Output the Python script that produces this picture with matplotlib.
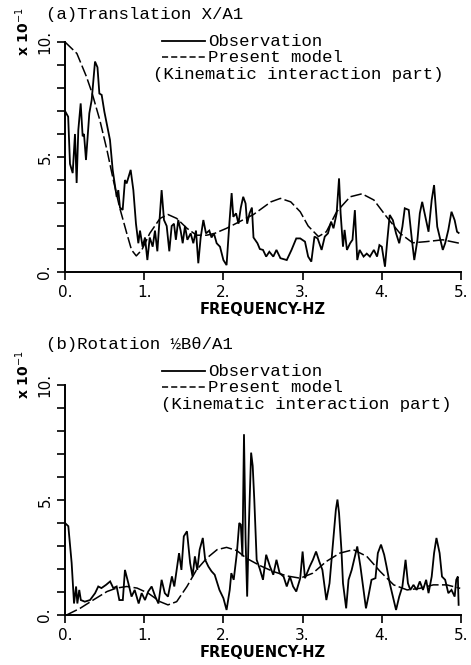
import numpy as np
import matplotlib
matplotlib.use('Agg')
import matplotlib.pyplot as plt
from matplotlib.lines import Line2D
from matplotlib.ticker import MultipleLocator, FixedLocator, FixedFormatter

# ---- data (amplitude in units of 1, axis shows x10^-1) ----
obs_a_f = [0.0, 0.04, 0.063, 0.097, 0.126, 0.147, 0.168, 0.198, 0.223, 0.24, 0.265, 0.307, 0.337,
           0.379, 0.41, 0.434, 0.463, 0.497, 0.568, 0.602, 0.652, 0.673, 0.694, 0.728, 0.757, 0.778,
           0.829, 0.863, 0.896, 0.926, 0.947, 0.98, 1.01, 1.04, 1.07, 1.107, 1.136, 1.166, 1.22,
           1.25, 1.284, 1.317, 1.347, 1.376, 1.40, 1.43, 1.46, 1.486, 1.515, 1.545, 1.587, 1.62,
           1.654, 1.683, 1.713, 1.747, 1.78, 1.822, 1.85, 1.88, 1.915, 1.957, 2.0, 2.04, 2.075,
           2.104, 2.125, 2.16, 2.19, 2.22, 2.25, 2.28, 2.30, 2.33, 2.36, 2.38, 2.43, 2.46, 2.50,
           2.54, 2.58, 2.63, 2.67, 2.72, 2.80, 2.86, 2.92, 2.97, 3.03, 3.07, 3.11, 3.15, 3.19,
           3.24, 3.28, 3.32, 3.36, 3.39, 3.43, 3.46, 3.48, 3.51, 3.53, 3.56, 3.60, 3.63, 3.66,
           3.69, 3.72, 3.77, 3.81, 3.85, 3.90, 3.94, 3.97, 4.00, 4.04, 4.07, 4.10, 4.14, 4.18,
           4.22, 4.26, 4.29, 4.34, 4.38, 4.41, 4.45, 4.48, 4.51, 4.55, 4.59, 4.63, 4.66, 4.70,
           4.74, 4.77, 4.80, 4.84, 4.88, 4.92, 4.95, 4.97]
obs_a_v = [0.70, 0.675, 0.47, 0.43, 0.60, 0.387, 0.617, 0.733, 0.59, 0.60, 0.487, 0.69, 0.748,
           0.915, 0.89, 0.776, 0.77, 0.697, 0.574, 0.444, 0.327, 0.356, 0.28, 0.27, 0.40, 0.385,
           0.444, 0.356, 0.21, 0.125, 0.18, 0.11, 0.15, 0.052, 0.15, 0.11, 0.18, 0.09, 0.356,
           0.226, 0.20, 0.09, 0.20, 0.21, 0.14, 0.226, 0.18, 0.125, 0.20, 0.14, 0.168, 0.125,
           0.18, 0.038, 0.15, 0.226, 0.168, 0.18, 0.15, 0.168, 0.125, 0.11, 0.052, 0.03, 0.21,
           0.343, 0.24, 0.255, 0.21, 0.28, 0.327, 0.298, 0.21, 0.255, 0.28, 0.15, 0.125, 0.10, 0.096,
           0.067, 0.088, 0.067, 0.096, 0.06, 0.052, 0.096, 0.146, 0.146, 0.132, 0.067, 0.045, 0.154, 0.146,
           0.096, 0.154, 0.168, 0.219, 0.19, 0.255, 0.407, 0.255, 0.11, 0.183, 0.096, 0.125, 0.14, 0.269,
           0.052, 0.096, 0.067, 0.08, 0.067, 0.096, 0.067, 0.117, 0.11, 0.023, 0.14, 0.248, 0.225, 0.168,
           0.125, 0.197, 0.277, 0.27, 0.14, 0.052, 0.14, 0.255, 0.305, 0.24, 0.175, 0.313, 0.378, 0.197,
           0.14, 0.096, 0.125, 0.183, 0.262, 0.225, 0.175, 0.17]

model_a_f = [0.0, 0.15, 0.27, 0.34, 0.44, 0.53, 0.61, 0.69, 0.78, 0.84, 0.90, 0.97, 1.07, 1.20,
             1.30, 1.41, 1.54, 1.66, 1.79, 1.89, 2.04, 2.21, 2.38, 2.46, 2.60, 2.72, 2.85, 2.97,
             3.07, 3.20, 3.30, 3.43, 3.60, 3.75, 3.90, 4.06, 4.23, 4.39, 4.56, 4.77, 4.98]
model_a_v = [1.0, 0.95, 0.85, 0.78, 0.66, 0.53, 0.40, 0.28, 0.168, 0.096, 0.07, 0.096, 0.168, 0.233,
             0.25, 0.233, 0.19, 0.16, 0.16, 0.168, 0.19, 0.22, 0.25, 0.27, 0.305, 0.32, 0.305, 0.262,
             0.20, 0.154, 0.175, 0.262, 0.327, 0.34, 0.313, 0.24, 0.168, 0.127, 0.132, 0.14, 0.125]

obs_b_f = [0.0, 0.042, 0.084, 0.114, 0.14, 0.156, 0.18, 0.20, 0.25, 0.316, 0.38, 0.42, 0.46, 0.518,
           0.57, 0.61, 0.652, 0.686, 0.73, 0.757, 0.80, 0.84, 0.88, 0.93, 0.968, 1.01, 1.05, 1.094,
           1.14, 1.18, 1.22, 1.26, 1.30, 1.35, 1.38, 1.41, 1.44, 1.47, 1.50, 1.54, 1.58, 1.61, 1.64,
           1.67, 1.70, 1.74, 1.77, 1.81, 1.85, 1.89, 1.95, 2.0, 2.04, 2.08, 2.10, 2.13, 2.17, 2.20,
           2.22, 2.24, 2.26, 2.28, 2.30, 2.32, 2.35, 2.37, 2.39, 2.42, 2.46, 2.50, 2.54, 2.588, 2.63,
           2.67, 2.71, 2.76, 2.80, 2.84, 2.88, 2.92, 2.97, 3.00, 3.03, 3.09, 3.13, 3.17, 3.21, 3.25,
           3.30, 3.34, 3.38, 3.42, 3.44, 3.46, 3.49, 3.51, 3.55, 3.58, 3.62, 3.66, 3.69, 3.73, 3.77,
           3.80, 3.83, 3.87, 3.92, 3.95, 3.99, 4.03, 4.06, 4.10, 4.15, 4.18, 4.22, 4.26, 4.30, 4.33,
           4.36, 4.40, 4.44, 4.48, 4.52, 4.56, 4.59, 4.63, 4.66, 4.69, 4.73, 4.76, 4.80, 4.84, 4.88,
           4.92, 4.94, 4.96, 4.97]
obs_b_v = [0.40, 0.386, 0.226, 0.05, 0.124, 0.05, 0.109, 0.065, 0.058, 0.065, 0.095, 0.124, 0.117, 0.131,
           0.146, 0.117, 0.124, 0.065, 0.065, 0.196, 0.138, 0.08, 0.109, 0.05, 0.095, 0.065, 0.102, 0.124,
           0.08, 0.05, 0.153, 0.095, 0.08, 0.168, 0.124, 0.196, 0.269, 0.196, 0.342, 0.364, 0.226, 0.168, 0.255,
           0.196, 0.284, 0.335, 0.24, 0.211, 0.19, 0.175, 0.109, 0.073, 0.022, 0.109, 0.182, 0.153, 0.269, 0.40,
           0.393, 0.255, 0.786, 0.328, 0.08, 0.371, 0.706, 0.648, 0.502, 0.24, 0.20, 0.153, 0.262, 0.211, 0.175,
           0.24, 0.182, 0.167, 0.124, 0.167, 0.124, 0.102, 0.16, 0.276, 0.16, 0.211, 0.24, 0.276, 0.233, 0.196,
           0.065, 0.138, 0.298, 0.458, 0.502, 0.444, 0.284, 0.138, 0.029, 0.153, 0.196, 0.255, 0.298, 0.211, 0.109,
           0.029, 0.08, 0.153, 0.16, 0.269, 0.306, 0.262, 0.211, 0.138, 0.065, 0.022, 0.08, 0.124, 0.24, 0.138,
           0.109, 0.131, 0.109, 0.146, 0.109, 0.153, 0.095, 0.167, 0.269, 0.335, 0.269, 0.167, 0.153, 0.095, 0.109,
           0.08, 0.153, 0.167, 0.044]

model_b_f = [0.02, 0.19, 0.36, 0.53, 0.65, 0.78, 0.91, 1.05, 1.20, 1.30, 1.41, 1.54, 1.66, 1.79,
             1.92, 2.04, 2.17, 2.29, 2.46, 2.63, 2.80, 2.97, 3.13, 3.30, 3.47, 3.64, 3.81, 3.98,
             4.15, 4.32, 4.48, 4.65, 4.82, 4.99]
model_b_v = [0.0, 0.029, 0.066, 0.102, 0.117, 0.124, 0.117, 0.095, 0.058, 0.044, 0.058, 0.124, 0.196,
             0.247, 0.284, 0.294, 0.28, 0.247, 0.215, 0.189, 0.17, 0.16, 0.182, 0.233, 0.269, 0.284,
             0.255, 0.189, 0.131, 0.109, 0.116, 0.131, 0.131, 0.116]

titles = ['(a)Translation X/A1', '(b)Rotation ½Bθ/A1']
x_ticks = [0, 1, 2, 3, 4, 5]
x_ticklabels = ['0.', '1.', '2.', '3.', '4.', '5.']
y_ticks = [0, 0.5, 1.0]
y_ticklabels = ['0.', '5.', '10.']

W, H = 471, 665
fig = plt.figure(figsize=(W / 100, H / 100), dpi=100)


def fx(px):
    return px / W


def fy(py):
    return 1 - py / H


mono = 'Liberation Mono'
sans = 'DejaVu Sans'
tsize = 12.5

# axes top/bottom pixel rows, text block offset, note centre
panels = [
    (obs_a_f, obs_a_v, model_a_f, model_a_v, 42, 272, 0, 298),
    (obs_b_f, obs_b_v, model_b_f, model_b_v, 385, 615, 330, 306),
]

for i, (of, ov, mf, mv, top, bot, off, note_x) in enumerate(panels):
    ax = fig.add_axes([fx(65), fy(bot), fx(461) - fx(65), (bot - top) / H])
    ax.plot(of, ov, color='black', lw=1.3, solid_joinstyle='miter')
    ax.plot(mf, mv, color='black', lw=1.1, dashes=(7.5, 2.2))
    ax.set_xlim(0, 5)
    ax.set_ylim(0, 1.0)
    for s in ['top', 'right']:
        ax.spines[s].set_visible(False)
    for s in ['left', 'bottom']:
        ax.spines[s].set_linewidth(1.4)
    ax.xaxis.set_major_locator(FixedLocator(x_ticks))
    ax.xaxis.set_major_formatter(FixedFormatter(x_ticklabels))
    ax.yaxis.set_major_locator(FixedLocator(y_ticks))
    ax.yaxis.set_major_formatter(FixedFormatter(y_ticklabels))
    ax.yaxis.set_minor_locator(MultipleLocator(0.1))
    ax.tick_params(axis='x', direction='out', length=6, width=1.2, pad=3, labelsize=11)
    ax.tick_params(axis='y', which='both', direction='out', length=6, width=1.2, pad=3,
                   labelsize=11, labelrotation=90)
    for lab in ax.get_xticklabels() + ax.get_yticklabels():
        lab.set_fontfamily(sans)
    for lab in ax.get_yticklabels():
        lab.set_va('center')
    ax.set_xlabel('FREQUENCY-HZ', fontsize=10.5, fontweight='bold', family=sans, labelpad=2)

    # y-scale factor label
    fig.text(fx(23), fy(top - 10), r'x 10$^{-1}$', rotation=90, ha='center', va='center',
             fontsize=10, fontweight='bold', family=sans)

    # title and legend block
    fig.text(fx(46), fy(15 + off), titles[i], ha='left', va='center', fontsize=tsize, family=mono)
    fig.add_artist(Line2D([fx(162), fx(205)], [fy(41 + off)] * 2, color='black', lw=1.3))
    fig.text(fx(208), fy(41 + off), 'Observation', ha='left', va='center', fontsize=tsize, family=mono)
    fig.add_artist(Line2D([fx(162), fx(205)], [fy(57 + off)] * 2, color='black', lw=1.1,
                          dashes=(4, 2)))
    fig.text(fx(208), fy(57 + off), 'Present model', ha='left', va='center', fontsize=tsize, family=mono)
    fig.text(fx(note_x), fy(74 + off), '(Kinematic interaction part)', ha='center', va='center',
             fontsize=tsize, family=mono)

plt.savefig('out.png', dpi=100)
